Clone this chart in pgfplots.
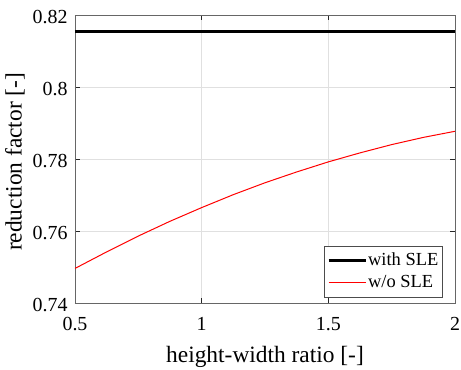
\documentclass[border=0pt]{standalone}
\usepackage{fontspec}
\setmainfont{Liberation Serif}
\usepackage{pgfplots}
\pgfplotsset{compat=1.18}
\begin{document}
\begin{tikzpicture}
\begin{axis}[
  scale only axis, width=380bp, height=288bp,
  xmin=0.5, xmax=2, ymin=0.74, ymax=0.82,
  xtick={0.5,1,1.5,2}, xticklabels={0.5,1,1.5,2},
  ytick={0.74,0.76,0.78,0.8,0.82}, yticklabels={0.74,0.76,0.78,0.8,0.82},
  grid=major, major grid style={black!12, line width=0.6bp},
  axis line style={black!60, line width=0.7bp},
  tick style={black!85, line width=0.7bp}, major tick length=5bp,
  tick align=inside,
  ticklabel style={font=\fontsize{20}{23}\selectfont},
  xticklabel style={yshift=-11bp},
  yticklabel style={xshift=-4bp, yshift=-2bp},
  label style={font=\fontsize{23.5}{26}\selectfont},
  xlabel={height-width ratio [-]}, ylabel={reduction factor [-]},
  xlabel style={at={(axis description cs:0.5,0)}, anchor=base, yshift=-59.7bp},
  ylabel style={at={(axis description cs:-0.1403,0.49)}, anchor=base},
  legend cell align=left,
  legend style={at={(0.968,0.02)}, anchor=south east, draw=black!70,
    line width=0.7bp, font=\fontsize{18.5}{21}\selectfont,
    inner xsep=3.2bp, inner ysep=4.2bp, row sep=1bp,
    nodes={inner sep=1bp, text height=14bp, text depth=4.6bp}},
  legend image code/.code={\draw[#1] (0bp,0bp) -- (37bp,0bp);},
]
\addplot[black, line width=3bp] coordinates {(0.5,0.8154) (2,0.8154)};
\addlegendentry{with SLE}
\addplot[red, line width=1bp] coordinates {
  (0.5,0.7496) (0.625,0.7542) (0.75,0.7586) (0.875,0.7627) (1.0,0.7665)
  (1.125,0.7701) (1.25,0.7734) (1.375,0.7764) (1.5,0.7792) (1.625,0.7817)
  (1.75,0.7840) (1.875,0.7860) (2.0,0.7877)};
\addlegendentry{w/o SLE}
\end{axis}
\pgfresetboundingbox
\path[use as bounding box] (-75bp,-67bp) rectangle (386bp,303bp);
\end{tikzpicture}
\end{document}
